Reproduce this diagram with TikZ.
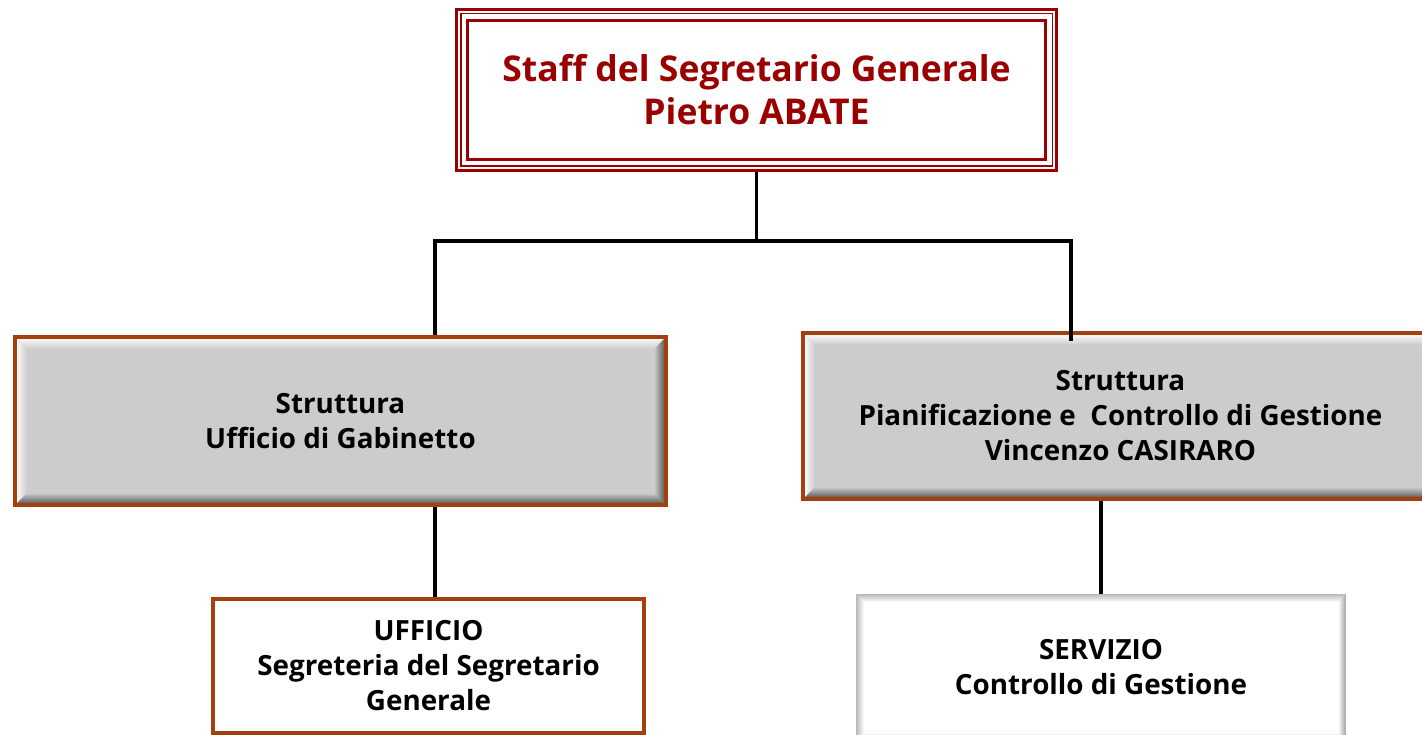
\documentclass[tikz,border=0pt]{standalone}
\usepackage{fontspec}
\setmainfont{Open Sans}
\usetikzlibrary{calc}
\definecolor{staffred}{HTML}{9A0000}
\definecolor{boxbrown}{HTML}{A3400E}
\definecolor{boxgray}{HTML}{CCCCCC}

\begin{document}
\begin{tikzpicture}[x=1pt,y=-1pt,
    line/.style={draw,line width=3.5pt},
    % raised edge: width / outer top-left / face / outer bottom-right
    bevel/.style n args={4}{path picture={
      \coordinate (bnw) at (path picture bounding box.north west);
      \coordinate (bne) at (path picture bounding box.north east);
      \coordinate (bsw) at (path picture bounding box.south west);
      \coordinate (bse) at (path picture bounding box.south east);
      \shade[top color=#2,bottom color=#3] (bnw) -- (bne) -- ([xshift=-#1,yshift=-#1]bne) -- ([xshift=#1,yshift=-#1]bnw) -- cycle;
      \shade[left color=#2,right color=#3] (bnw) -- (bsw) -- ([xshift=#1,yshift=#1]bsw) -- ([xshift=#1,yshift=-#1]bnw) -- cycle;
      \shade[top color=#3,bottom color=#4] (bsw) -- (bse) -- ([xshift=-#1,yshift=#1]bse) -- ([xshift=#1,yshift=#1]bsw) -- cycle;
      \shade[left color=#3,right color=#4] (bne) -- (bse) -- ([xshift=-#1,yshift=#1]bse) -- ([xshift=-#1,yshift=-#1]bne) -- cycle;
    }},
    boxtext/.style={align=center,font=\bfseries\fontsize{27.8}{35}\selectfont},
    staffbox/.style={draw=staffred,fill=white,line width=3.5pt,align=center,text=staffred,
      font=\bfseries\fontsize{35.5}{43}\selectfont},
    graybox/.style={boxtext,draw=boxbrown,fill=boxgray,line width=4pt,
      bevel={12pt}{white}{boxgray}{gray!60!black}},
    officebox/.style={boxtext,draw=boxbrown,fill=white,line width=4pt},
    servicebox/.style={boxtext,fill=white,bevel={8pt}{gray!55}{white}{gray!75}}]

    \useasboundingbox (0,0) rectangle (1422,735);

    % boxes
    \node[staffbox,minimum width=600pt,minimum height=161pt] (staff) at (756.5,90)
      {Staff del Segretario Generale\\Pietro ABATE};
    \draw[staffred,line width=1.5pt] ([xshift=6pt,yshift=-6pt]staff.north west) rectangle ([xshift=-6pt,yshift=6pt]staff.south east);
    \draw[staffred,line width=3pt] ([xshift=13pt,yshift=-13pt]staff.north west) rectangle ([xshift=-13pt,yshift=13pt]staff.south east);

    \node[graybox,minimum width=651pt,minimum height=168pt] (gab) at (340.5,421)
      {Struttura\\Ufficio di Gabinetto};
    \node[graybox,minimum width=635pt,minimum height=166pt] (pian) at (1120.5,416)
      {Struttura\\Pianificazione e~ Controllo di Gestione\\Vincenzo CASIRARO};
    \node[officebox,minimum width=431pt,minimum height=134pt] (uff) at (428.5,666)
      {UFFICIO\\Segreteria del Segretario\\Generale};
    \node[servicebox,minimum width=490pt,minimum height=147pt] (serv) at (1101,667.5)
      {SERVIZIO\\Controllo di Gestione};

    % connectors
    \coordinate (busL) at (435,241);
    \coordinate (busR) at (1071,241);
    \draw[line] (staff.south) -- (staff.south |- busL);
    \draw[line] ([xshift=-1.75pt]busL) -- ([xshift=1.75pt]busR);
    \draw[line] (busL) -- (busL |- gab.north);
    \draw[line] (busR) -- ([yshift=-10pt]busR |- pian.north);
    \draw[line] (busL |- gab.south) -- (busL |- uff.north);
    \draw[line] (serv.north |- pian.south) -- (serv.north);

\end{tikzpicture}
\end{document}
